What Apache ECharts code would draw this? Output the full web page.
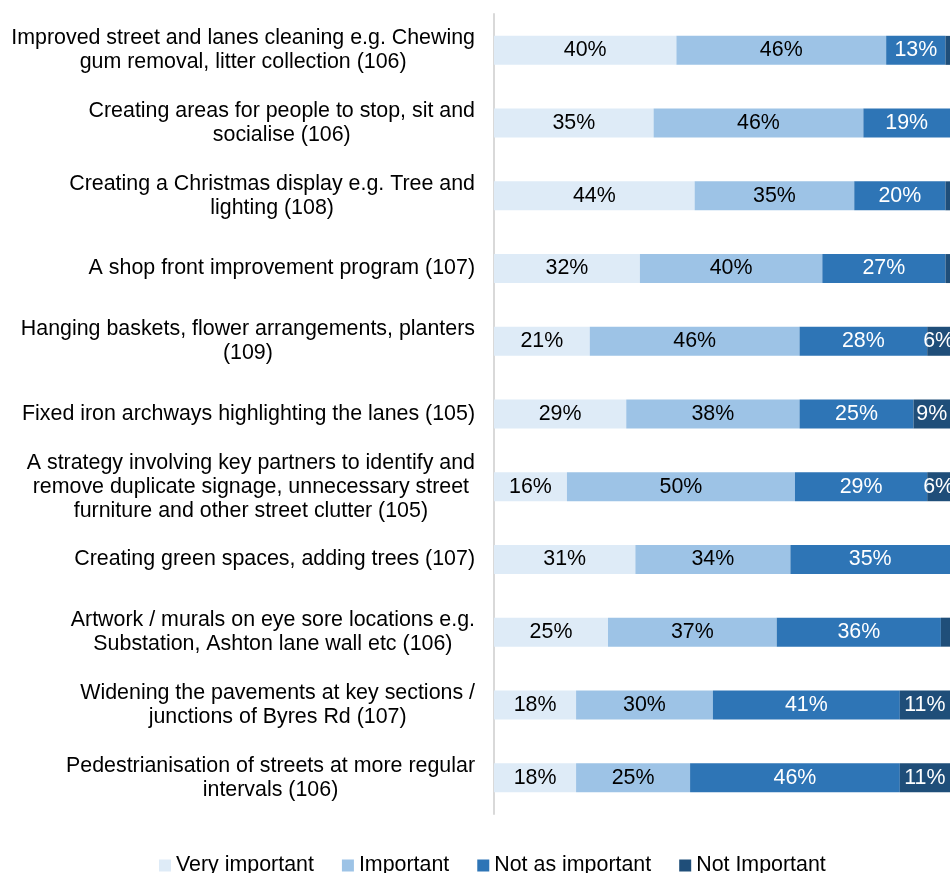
<!DOCTYPE html>
<html>
<head>
<meta charset="utf-8">
<title>Importance of improvement options</title>
<script src="https://cdn.jsdelivr.net/npm/echarts@6/dist/echarts.min.js"></script>
<style>
  html, body { margin: 0; padding: 0; background: #ffffff; }
  #chart { width: 952px; height: 873px; }
</style>
</head>
<body>
<div id="chart"></div>
<script>
// Improvement options, listed top to bottom
const categories = [
  'Improved street and lanes cleaning e.g. Chewing\ngum removal, litter collection (106)',
  'Creating areas for people to stop, sit and\nsocialise (106)',
  'Creating a Christmas display e.g. Tree and\nlighting (108)',
  'A shop front improvement program (107)',
  'Hanging baskets, flower arrangements, planters\n(109)',
  'Fixed iron archways highlighting the lanes (105)',
  'A strategy involving key partners to identify and\nremove duplicate signage, unnecessary street\nfurniture and other street clutter (105)',
  'Creating green spaces, adding trees (107)',
  'Artwork / murals on eye sore locations e.g.\nSubstation, Ashton lane wall etc (106)',
  'Widening the pavements at key sections /\njunctions of Byres Rd (107)',
  'Pedestrianisation of streets at more regular\nintervals (106)'
];

// Share of respondents (%) per rating
const veryImportant   = [40, 35, 44, 32, 21, 29, 16, 31, 25, 18, 18];
const important       = [46, 46, 35, 40, 46, 38, 50, 34, 37, 30, 25];
const notAsImportant  = [13, 19, 20, 27, 28, 25, 29, 35, 36, 41, 46];
const notImportant    = [1, 0, 1, 1, 6, 9, 6, 1, 2, 11, 11];

const seriesNames  = ['Very important', 'Important', 'Not as important', 'Not Important'];
const seriesColors = ['#DEEBF7', '#9DC3E6', '#2E75B6', '#1F4E79'];
const labelColors  = ['#000000', '#000000', '#ffffff', '#ffffff'];
const seriesData   = [veryImportant, important, notAsImportant, notImportant];

const FONT = '"Liberation Sans", Arial, sans-serif';
const FS = 21.4;

const chart = echarts.init(document.getElementById('chart'), null, { renderer: 'canvas' });

chart.setOption({
  animation: false,
  backgroundColor: '#ffffff',
  grid: { left: 494, right: 2, top: 14, bottom: 59, containLabel: false },
  xAxis: {
    type: 'value',
    min: 0,
    max: 100,
    show: false
  },
  yAxis: {
    type: 'category',
    data: categories,
    inverse: true,
    axisLine: { show: true, lineStyle: { color: '#D9D9D9', width: 2 } },
    axisTick: { show: false },
    splitLine: { show: false },
    axisLabel: {
      margin: 19,
      align: 'right',
      color: '#000000',
      fontFamily: FONT,
      fontSize: FS,
      lineHeight: 24,
      formatter: function (v) {
        // each line centred within the right-aligned label block
        return v.split('\n').map(function (l) { return '{c|' + l + '}'; }).join('\n');
      },
      rich: {
        c: { align: 'center', fontFamily: FONT, fontSize: FS, lineHeight: 24, color: '#000000' }
      }
    }
  },
  legend: {
    data: seriesNames,
    left: 154,
    top: 850,
    icon: 'rect',
    itemWidth: 12,
    itemHeight: 12,
    itemGap: 28,
    textStyle: { fontFamily: FONT, fontSize: FS, color: '#000000' }
  },
  series: seriesData.map(function (d, i) {
    return {
      name: seriesNames[i],
      type: 'bar',
      stack: 'total',
      barWidth: 29,
      data: d,
      itemStyle: { color: seriesColors[i] },
      label: {
        show: true,
        position: 'inside',
        color: labelColors[i],
        fontFamily: FONT,
        fontSize: FS,
        formatter: function (p) { return p.value >= 5 ? p.value + '%' : ''; }
      }
    };
  })
});
</script>
</body>
</html>
